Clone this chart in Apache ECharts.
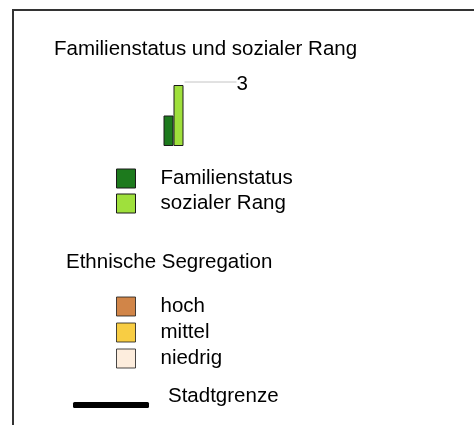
<!DOCTYPE html>
<html>
<head>
<meta charset="utf-8">
<script src="https://cdn.jsdelivr.net/npm/echarts@6/dist/echarts.min.js"></script>
<style>
html,body{margin:0;padding:0;background:#fff;}
#c{width:474px;height:425px;}
</style>
</head>
<body>
<div id="c"></div>
<script>
// Data
var categories = ['Stadtteil'];
var familienstatus = [1.5];
var sozialerRang = [3];
var barSeriesNames = ['Familienstatus', 'sozialer Rang'];
var segregationClasses = ['hoch', 'mittel', 'niedrig'];
var boundaryName = 'Stadtgrenze';
var title1 = 'Familienstatus und sozialer Rang';
var title2 = 'Ethnische Segregation';

var FONT = '"Liberation Sans", Arial, sans-serif';
var FS = 20.5;
var chart = echarts.init(document.getElementById('c'), null, {renderer: 'canvas'});

var option = {
  animation: false,
  backgroundColor: '#fff',
  title: [
    {text: title1, left: 54, top: 39, padding: 0,
     textStyle: {fontFamily: FONT, fontSize: FS, fontWeight: 'normal', color: '#000'}},
    {text: title2, left: 66, top: 252, padding: 0,
     textStyle: {fontFamily: FONT, fontSize: FS, fontWeight: 'normal', color: '#000'}}
  ],
  grid: {left: 163, width: 21, top: 85, height: 61, containLabel: false},
  xAxis: {type: 'category', data: categories, show: false},
  yAxis: {type: 'value', min: 0, max: 3, show: false},
  legend: [
    {data: barSeriesNames, orient: 'vertical', left: 116, top: 168, padding: 0,
     itemWidth: 19, itemHeight: 19, itemGap: 4, icon: 'rect', selectedMode: false,
     itemStyle: {borderColor: '#1a1a1a', borderWidth: 1},
     textStyle: {fontFamily: FONT, fontSize: FS, color: '#000', padding: [0, 0, 0, 20]}},
    {data: segregationClasses, orient: 'vertical', left: 116, top: 296, padding: 0,
     itemWidth: 19, itemHeight: 19, itemGap: 5, icon: 'rect', selectedMode: false,
     itemStyle: {borderColor: '#1a1a1a', borderWidth: 1},
     textStyle: {fontFamily: FONT, fontSize: FS, color: '#000', padding: [0, 0, 0, 20]}},
    {data: [boundaryName], orient: 'vertical', left: 73, top: 386, padding: 0,
     itemWidth: 76, itemHeight: 6, icon: 'roundRect', selectedMode: false,
     itemStyle: {borderWidth: 0},
     formatter: function (n) { return '{a|' + n + '}\n{b| }'; },
     textStyle: {fontFamily: FONT, fontSize: FS, color: '#000', padding: [0, 0, 0, 14],
       rich: {a: {fontFamily: FONT, fontSize: FS, lineHeight: 17, color: '#000'},
              b: {fontFamily: FONT, fontSize: FS, lineHeight: 17}}}}
  ],
  series: [
    {name: barSeriesNames[0], type: 'bar', data: familienstatus, barWidth: 10, barGap: '0%',
     itemStyle: {color: '#1d7a1d', borderColor: '#1a1a1a', borderWidth: 1}},
    {name: barSeriesNames[1], type: 'bar', data: sozialerRang, barWidth: 10, barGap: '0%',
     itemStyle: {color: '#9fe03c', borderColor: '#1a1a1a', borderWidth: 1}},
    {name: segregationClasses[0], type: 'scatter', data: [], itemStyle: {color: '#c6671a'}},
    {name: segregationClasses[1], type: 'scatter', data: [], itemStyle: {color: '#f6c114'}},
    {name: segregationClasses[2], type: 'scatter', data: [], itemStyle: {color: '#fde9d4'}},
    {name: boundaryName, type: 'line', data: [], itemStyle: {color: '#000'}, lineStyle: {color: '#000', width: 6}}
  ]
};
chart.setOption(option);

// Leader line and value label for the tallest bar, placed via the chart's scales
var px = chart.convertToPixel({xAxisIndex: 0}, categories[0]);
var py = chart.convertToPixel({yAxisIndex: 0}, sozialerRang[0]);
if (typeof px !== 'number' || isNaN(px)) { px = 173.5; }
if (typeof py !== 'number' || isNaN(py)) { py = 85; }
var barRight = px + 11;
chart.setOption({
  graphic: [
    {type: 'rect', shape: {x: 13, y: 10, width: 600, height: 600},
     style: {fill: 'none', stroke: '#333', lineWidth: 2}, silent: true},
    {type: 'line', shape: {x1: barRight, y1: py - 3, x2: barRight + 52, y2: py - 3},
     style: {stroke: '#c4c4c4', lineWidth: 1}},
    {type: 'text', x: barRight + 52, y: py - 1,
     style: {text: String(sozialerRang[0]), font: FS + 'px ' + FONT, fill: '#000',
             textVerticalAlign: 'middle', verticalAlign: 'middle'}}
  ]
});
</script>
</body>
</html>
